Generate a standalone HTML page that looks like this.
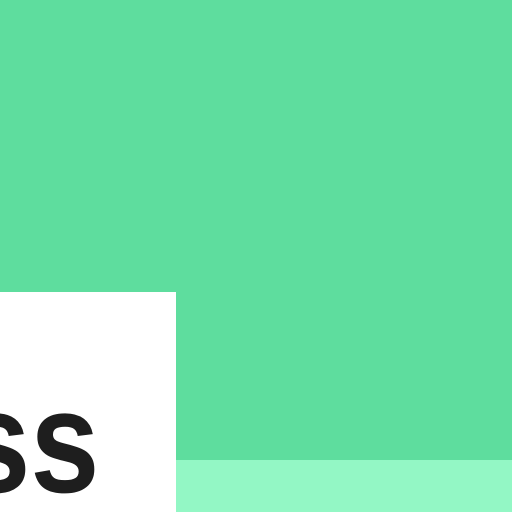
<!DOCTYPE html>
<html><head><meta charset="utf-8"><style>
html,body{margin:0;padding:0}
body{width:512px;height:512px;position:relative;overflow:hidden;background:#5edd9e;font-family:"Liberation Sans",sans-serif}
#box{position:absolute;left:0;top:292px;width:176px;height:220px;background:#fff;overflow:hidden}
#strip{position:absolute;left:176px;top:460px;width:336px;height:52px;background:#93f7c5}
#txt{position:absolute;right:77px;top:0;font-weight:bold;font-size:146px;line-height:1;color:#1e1e1e;transform:scaleX(0.85);transform-origin:right top;white-space:nowrap;margin-top:77px}
</style></head><body>
<div id="box"><span id="txt">ss</span></div>
<div id="strip"></div>
</body></html>
